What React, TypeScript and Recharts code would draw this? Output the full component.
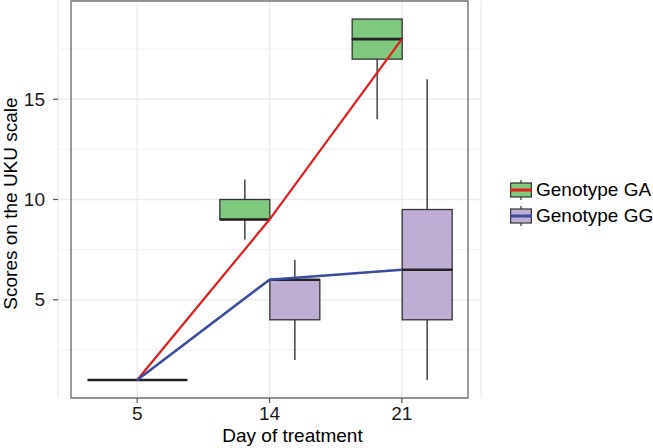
import {
  ComposedChart,
  Bar,
  Line,
  XAxis,
  YAxis,
  CartesianGrid,
  ReferenceArea,
} from "recharts";

const days = ["5", "14", "21"];
const genotypes = ["Genotype GA", "Genotype GG"];

// box stats per day
const gaMin = [1, 8, 14];
const gaQ1 = [1, 9, 17];
const gaMedian = [1, 9, 18];
const gaQ3 = [1, 10, 19];
const gaMax = [1, 11, 19];

const ggMin = [1, 2, 1];
const ggQ1 = [1, 4, 4];
const ggMedian = [1, 6, 6.5];
const ggQ3 = [1, 6, 9.5];
const ggMax = [1, 7, 16];

const yTicks = [5, 10, 15];
const yMinor = [2.5, 7.5, 12.5, 17.5];
const yDomain = [0.1, 19.9];

const FILLS = ["#7FC97F", "#BEAED4"];
const LINE_COLORS = ["#E41A1C", "#3B4CA0"];
const OUTLINE = "#333333";
const FONT = "'Liberation Sans', Arial, sans-serif";

const data = days.map((day, i) => ({
  day,
  gaBase: gaMin[i],
  gaLowW: gaQ1[i] - gaMin[i],
  gaLowB: gaMedian[i] - gaQ1[i],
  gaHighB: gaQ3[i] - gaMedian[i],
  gaHighW: gaMax[i] - gaQ3[i],
  gaMed: gaMedian[i],
  ggBase: ggMin[i],
  ggLowW: ggQ1[i] - ggMin[i],
  ggLowB: ggMedian[i] - ggQ1[i],
  ggHighB: ggQ3[i] - ggMedian[i],
  ggHighW: ggMax[i] - ggQ3[i],
  ggMed: ggMedian[i],
}));

const Empty = () => <g />;

const Whisker = (props: any) => {
  const { x, y, width, height } = props;
  const cx = x + width / 2;
  if (!height) return <g />;
  return (
    <line x1={cx} x2={cx} y1={y} y2={y + height} stroke={OUTLINE} strokeWidth={1.4} />
  );
};

const makeBox = (fill: string, medianAtBottom: boolean) => (props: any) => {
  const { x, y, width, height } = props;
  const my = medianAtBottom ? y + height : y;
  return (
    <g>
      <rect
        x={x}
        y={y}
        width={width}
        height={Math.max(height, 0)}
        fill={fill}
        stroke={OUTLINE}
        strokeWidth={1.3}
      />
      {medianAtBottom && (
        <line x1={x} x2={x + width} y1={my} y2={my} stroke="#222" strokeWidth={2.6} />
      )}
    </g>
  );
};

const XTitle = (props: any) => {
  const { x, y, width } = props.viewBox;
  return (
    <text
      x={x + width / 2 + 23}
      y={y + 44}
      textAnchor="middle"
      fontSize={19}
      fontFamily={FONT}
      fill="#000"
    >
      Day of treatment
    </text>
  );
};

const YTitle = (props: any) => {
  const { x, y, height } = props.viewBox;
  const cx = x + 16.5;
  const cy = y + height / 2 + 4;
  return (
    <text
      x={cx}
      y={cy}
      transform={`rotate(-90 ${cx} ${cy})`}
      textAnchor="middle"
      fontSize={19}
      fontFamily={FONT}
      fill="#000"
    >
      Scores on the UKU scale
    </text>
  );
};

const tickStyle = { fontSize: 19, fontFamily: FONT, fill: "#1a1a1a" };

function LegendKey({ fill, line }: { fill: string; line: string }) {
  return (
    <svg width={22} height={20} style={{ display: "block" }}>
      <line x1={11} x2={11} y1={0} y2={20} stroke={OUTLINE} strokeWidth={1.2} />
      <rect x={0.6} y={3} width={20.8} height={14} fill={fill} stroke={OUTLINE} strokeWidth={1.2} />
      <line x1={0} x2={22} y1={10} y2={10} stroke={line} strokeWidth={3} />
    </svg>
  );
}

export default function App() {
  return (
    <div style={{ position: "absolute", left: 0, top: 0, width: 653, height: 448, background: "#fff" }}>
      <ComposedChart
        width={653}
        height={448}
        data={data}
        margin={{ top: 1, right: 172, bottom: 0, left: 0 }}
        barCategoryGap={16.5}
        barGap={0}
      >
        <CartesianGrid
          horizontalValues={yMinor}
          vertical={false}
          stroke="#EDEDED"
          strokeWidth={0.8}
        />
        <CartesianGrid horizontalValues={yTicks} stroke="#EBEBEB" strokeWidth={1.3} />
        <XAxis
          dataKey="day"
          padding={{ left: 13, right: 13 }}
          height={50}
          axisLine={false}
          tickSize={5}
          tickMargin={4}
          tickLine={{ stroke: "#555", strokeWidth: 1.2 }}
          tick={tickStyle}
          label={<XTitle />}
        />
        <YAxis
          type="number"
          domain={yDomain}
          allowDataOverflow
          ticks={yTicks}
          width={58}
          axisLine={false}
          tickSize={5}
          tickMargin={8}
          tickLine={{ stroke: "#555", strokeWidth: 1.2 }}
          tick={tickStyle}
          label={<YTitle />}
        />

        <Bar dataKey="gaBase" stackId="ga" shape={Empty} isAnimationActive={false} />
        <Bar dataKey="gaLowW" stackId="ga" shape={Whisker} isAnimationActive={false} />
        <Bar dataKey="gaLowB" stackId="ga" shape={makeBox(FILLS[0], false)} isAnimationActive={false} />
        <Bar dataKey="gaHighB" stackId="ga" shape={makeBox(FILLS[0], true)} isAnimationActive={false} />
        <Bar dataKey="gaHighW" stackId="ga" shape={Whisker} isAnimationActive={false} />

        <Bar dataKey="ggBase" stackId="gg" shape={Empty} isAnimationActive={false} />
        <Bar dataKey="ggLowW" stackId="gg" shape={Whisker} isAnimationActive={false} />
        <Bar dataKey="ggLowB" stackId="gg" shape={makeBox(FILLS[1], false)} isAnimationActive={false} />
        <Bar dataKey="ggHighB" stackId="gg" shape={makeBox(FILLS[1], true)} isAnimationActive={false} />
        <Bar dataKey="ggHighW" stackId="gg" shape={Whisker} isAnimationActive={false} />

        <Line
          dataKey="gaMed"
          stroke={LINE_COLORS[0]}
          strokeWidth={2.2}
          dot={false}
          activeDot={false}
          isAnimationActive={false}
        />
        <Line
          dataKey="ggMed"
          stroke={LINE_COLORS[1]}
          strokeWidth={2.6}
          dot={false}
          activeDot={false}
          isAnimationActive={false}
        />

        <ReferenceArea
          y1={yDomain[0]}
          y2={yDomain[1]}
          fill="none"
          fillOpacity={0}
          stroke="#707070"
          strokeWidth={1.4}
        />
      </ComposedChart>

      <div style={{ position: "absolute", left: 510, top: 176.5, fontFamily: FONT, fontSize: 19 }}>
        {genotypes.map((g, i) => (
          <div key={g} style={{ display: "flex", alignItems: "center", height: 26, whiteSpace: "nowrap" }}>
            <LegendKey fill={FILLS[i]} line={LINE_COLORS[i]} />
            <span style={{ marginLeft: 4, color: "#000" }}>{g}</span>
          </div>
        ))}
      </div>
    </div>
  );
}
